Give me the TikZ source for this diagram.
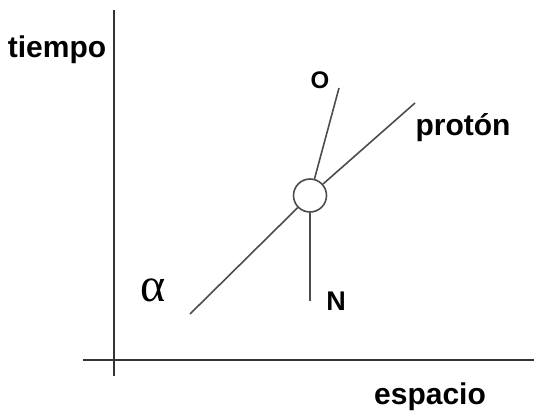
\documentclass[tikz,border=0pt]{standalone}
\usepackage{fontspec}
\setmainfont{Liberation Sans}
\newfontfamily\grkfont{Liberation Serif}
\begin{document}
	\begin{tikzpicture}[x=0.5pt,y=-0.5pt,
		axis/.style={line width=1pt, black!80},
		track/.style={line width=0.8pt, black!70},
		lbl/.style={font=\fontsize{15}{18}\selectfont\bfseries, inner sep=0pt}]
		\useasboundingbox (0,0) rectangle (534,412);
		% ejes
		\coordinate (ytop) at (114,10);
		\coordinate (ybot) at (114,376);
		\coordinate (xleft) at (83,360);
		\coordinate (xright) at (534,360);
		\draw[axis] (ybot) -- (ytop);
		\draw[axis] (xleft) -- (xright);
		\node[lbl, anchor=base] (tiempo) at (57,57) {tiempo};
		\node[lbl, anchor=base] (espacio) at (430,404) {espacio};
		% choque
		\node[circle, draw, track, fill=white, minimum size=16.5pt, inner sep=0pt] (col) at (310,195.5) {};
		\coordinate (aend) at (190,314);
		\coordinate (pend) at (415,103);
		\coordinate (oend) at (339,88);
		\coordinate (nend) at (310,301);
		\draw[track] (aend) -- (col);
		\draw[track] (col) -- (pend);
		\draw[track] (col) -- (oend);
		\draw[track] (col) -- (nend);
		\node[lbl, anchor=base] (proton) at (463,135) {protón};
		\node[lbl, font=\fontsize{12}{14}\selectfont\bfseries] (oxi) at (320,80.5) {O};
		\node[lbl, font=\fontsize{13.5}{16}\selectfont\bfseries] (nit) at (336,301.5) {N};
		\node[inner sep=0pt, font=\fontsize{24}{27}\selectfont\grkfont] (alfa) at (153,290) {α};
	\end{tikzpicture}
\end{document}
